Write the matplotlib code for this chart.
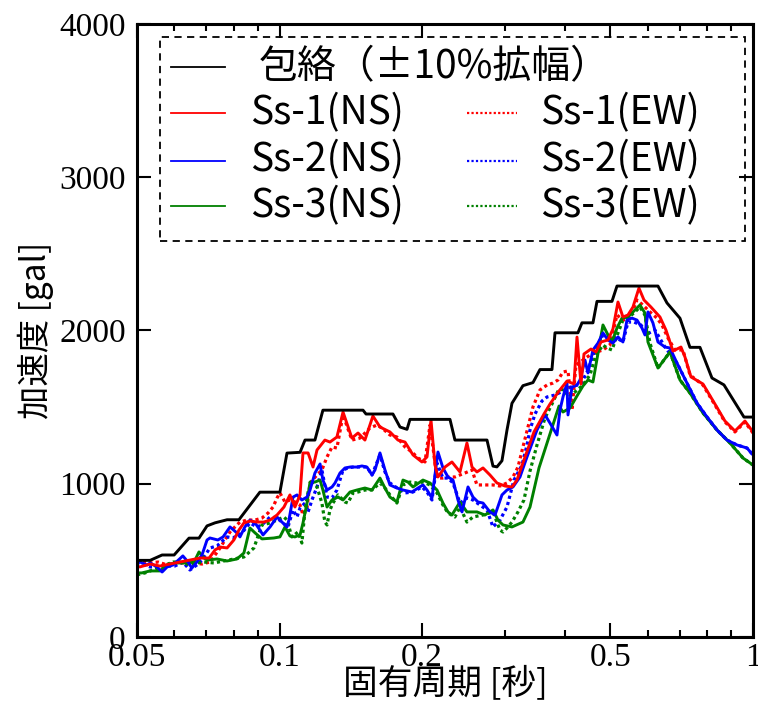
import matplotlib
matplotlib.use("Agg")
import matplotlib.pyplot as plt
from matplotlib.patches import Rectangle
from matplotlib.ticker import FixedLocator, NullFormatter

plt.rcParams['font.family'] = ['Noto Sans CJK JP', 'DejaVu Sans']

# envelope (+-10% broadened)
env_T = [0.050, 0.0533, 0.0565, 0.0599, 0.0644, 0.0676, 0.0703, 0.0731, 0.0775, 0.0821,
         0.0909, 0.1002, 0.1037, 0.1105, 0.1132, 0.1188, 0.1235, 0.1501, 0.1523, 0.1736,
         0.1797, 0.1859, 0.1886, 0.2291, 0.2347, 0.2743, 0.2824, 0.2879, 0.2950, 0.3023,
         0.3097, 0.3267, 0.3430, 0.3549, 0.3762, 0.3818, 0.4269, 0.4353, 0.4592, 0.4683,
         0.5037, 0.5161, 0.6299, 0.6581, 0.7011, 0.7360, 0.7727, 0.8191, 0.8683, 0.9570, 1.0]
env_A = [500, 500, 535, 535, 645, 645, 725, 745, 765, 765,
         945, 945, 1200, 1205, 1285, 1285, 1480, 1480, 1455, 1455,
         1370, 1355, 1420, 1420, 1285, 1285, 1115, 1110, 1150, 1350,
         1525, 1640, 1660, 1745, 1745, 1985, 1985, 2050, 2050, 2190,
         2190, 2290, 2290, 2180, 2080, 1890, 1890, 1690, 1645, 1435, 1435]

# Ss-1 (NS)
ss1_ns_T = [0.050, 0.0507, 0.0533, 0.0559, 0.0587, 0.0616, 0.0647, 0.0679, 0.0710, 0.0731,
            0.0749, 0.0775, 0.0801, 0.0821, 0.0841, 0.0866, 0.0896, 0.0927, 0.0955, 0.0988,
            0.1022, 0.1052, 0.1078, 0.1105, 0.1121, 0.1149, 0.1177, 0.1200, 0.1247, 0.1278,
            0.1322, 0.1362, 0.1422, 0.1465, 0.1515, 0.1575, 0.1630, 0.1711, 0.1779, 0.1841,
            0.1914, 0.1999, 0.2049, 0.2089, 0.2130, 0.2161, 0.2236, 0.2313, 0.2405, 0.2488,
            0.2550, 0.2612, 0.2690, 0.2783, 0.2879, 0.2994, 0.3097, 0.3173, 0.3283, 0.3447,
            0.3619, 0.3726, 0.3893, 0.4047, 0.4187, 0.4249, 0.4332, 0.4396, 0.4548, 0.4660,
            0.4775, 0.4940, 0.5061, 0.5186, 0.5313, 0.5444, 0.5578, 0.5743, 0.5885, 0.6088,
            0.6361, 0.6549, 0.6776, 0.7045, 0.7183, 0.7396, 0.7840, 0.8311, 0.8726, 0.9160,
            0.9617, 1.0]
ss1_ns_A = [463, 457, 476, 463, 476, 489, 502, 515, 515, 568,
            587, 581, 633, 698, 744, 757, 750, 750, 763, 796,
            848, 927, 848, 927, 1201, 1201, 1109, 1220, 1285, 1272,
            1305, 1468, 1298, 1331, 1285, 1442, 1370, 1338, 1285, 1272,
            1188, 1142, 1175, 1416, 1122, 1044, 1109, 1142, 1077, 1266,
            1109, 1077, 1103, 1057, 1005, 985, 979, 1024, 1155, 1338,
            1455, 1520, 1605, 1670, 1651, 1957, 1651, 1847, 1879, 1860,
            1925, 1938, 2010, 2186, 2088, 2101, 2153, 2277, 2199, 2153,
            2088, 2003, 1866, 1892, 1827, 1697, 1651, 1520, 1409, 1344,
            1409, 1338]

# Ss-2 (NS)
ss2_ns_T = [0.050, 0.0512, 0.0525, 0.0533, 0.0551, 0.0565, 0.0579, 0.0596, 0.0625, 0.0641,
            0.0653, 0.0669, 0.0686, 0.0703, 0.0713, 0.0741, 0.0760, 0.0786, 0.0813, 0.0825,
            0.0845, 0.0866, 0.0888, 0.0909, 0.0923, 0.0955, 0.0988, 0.1012, 0.1037, 0.1047,
            0.1068, 0.1089, 0.1115, 0.1143, 0.1160, 0.1188, 0.1218, 0.1235, 0.1260, 0.1291,
            0.1310, 0.1342, 0.1375, 0.1409, 0.1457, 0.1493, 0.1530, 0.1568, 0.1591, 0.1630,
            0.1670, 0.1711, 0.1770, 0.1823, 0.1904, 0.1961, 0.2009, 0.2049, 0.2099, 0.2161,
            0.2214, 0.2269, 0.2325, 0.2382, 0.2429, 0.2501, 0.2562, 0.2625, 0.2690, 0.2783,
            0.2852, 0.2950, 0.3023, 0.3112, 0.3220, 0.3332, 0.3498, 0.3636, 0.3726, 0.3855,
            0.3912, 0.3969, 0.4047, 0.4067, 0.4147, 0.4249, 0.4311, 0.4417, 0.4482, 0.4592,
            0.4706, 0.4821, 0.4940, 0.5061, 0.5186, 0.5313, 0.5418, 0.5551, 0.5688, 0.5828,
            0.5913, 0.6000, 0.6148, 0.6299, 0.6517, 0.6678, 0.6909, 0.7253, 0.7615, 0.7994,
            0.8393, 0.8811, 0.9250, 0.9711, 1.0]
ss2_ns_A = [502, 483, 470, 483, 457, 424, 457, 470, 529, 489,
            450, 489, 535, 633, 646, 633, 653, 718, 679, 653,
            718, 763, 744, 698, 666, 718, 783, 750, 718, 763,
            913, 927, 894, 913, 959, 1070, 1129, 1024, 959, 979,
            1005, 1070, 1103, 1109, 1109, 1116, 1109, 1057, 1090, 1201,
            1090, 992, 972, 959, 946, 972, 992, 959, 907, 1207,
            1103, 1044, 1024, 894, 816, 979, 913, 881, 874, 816,
            796, 927, 959, 979, 1044, 1175, 1351, 1449, 1396, 1318,
            1481, 1566, 1657, 1449, 1631, 1644, 1677, 1807, 1723, 1873,
            1918, 1984, 1938, 1918, 1958, 1925, 2068, 2081, 2068, 2016,
            1971, 2121, 2049, 1925, 1892, 1886, 1788, 1657, 1527, 1436,
            1351, 1285, 1253, 1233, 1188]

# Ss-3 (NS)
ss3_ns_T = [0.050, 0.0512, 0.0533, 0.0559, 0.0584, 0.0607, 0.0638, 0.0660, 0.0676, 0.0693,
            0.0703, 0.0738, 0.0775, 0.0813, 0.0841, 0.0866, 0.0888, 0.0918, 0.0973, 0.1002,
            0.1027, 0.1052, 0.1078, 0.1105, 0.1121, 0.1143, 0.1160, 0.1188, 0.1218, 0.1235,
            0.1260, 0.1291, 0.1329, 0.1362, 0.1409, 0.1457, 0.1515, 0.1568, 0.1630, 0.1670,
            0.1711, 0.1770, 0.1823, 0.1868, 0.1914, 0.2009, 0.2079, 0.2151, 0.2214, 0.2269,
            0.2313, 0.2405, 0.2488, 0.2612, 0.2716, 0.2824, 0.2893, 0.2965, 0.3097, 0.3267,
            0.3381, 0.3532, 0.3726, 0.3893, 0.3969, 0.4107, 0.4249, 0.4374, 0.4482, 0.4592,
            0.4821, 0.4940, 0.5037, 0.5161, 0.5288, 0.5444, 0.5633, 0.5771, 0.5913, 0.6000,
            0.6299, 0.6678, 0.7011, 0.7360, 0.7840, 0.8393, 0.8940, 0.9524, 1.0]
ss3_ns_A = [418, 418, 431, 431, 476, 483, 483, 489, 555, 515,
            502, 509, 496, 509, 548, 711, 679, 640, 646, 653,
            718, 659, 653, 666, 744, 874, 1011, 1011, 1024, 959,
            848, 894, 913, 894, 946, 959, 972, 959, 1037, 972,
            913, 881, 1024, 1011, 979, 1024, 1005, 959, 874, 816,
            796, 881, 816, 816, 796, 829, 763, 731, 718, 750,
            848, 1103, 1325, 1507, 1468, 1494, 1573, 1638, 1677, 1664,
            2036, 1971, 1925, 2016, 2081, 2088, 2134, 2166, 2114, 1925,
            1755, 1860, 1677, 1592, 1462, 1351, 1266, 1168, 1122]

# Ss-1 (EW)
ss1_ew_T = [0.050, 0.0512, 0.0533, 0.0554, 0.0579, 0.0601, 0.0625, 0.0657, 0.0686, 0.0713,
            0.0731, 0.0749, 0.0767, 0.0786, 0.0805, 0.0825, 0.0854, 0.0888, 0.0918, 0.0946,
            0.0969, 0.0988, 0.1002, 0.1027, 0.1052, 0.1078, 0.1105, 0.1121, 0.1143, 0.1160,
            0.1200, 0.1229, 0.1260, 0.1291, 0.1322, 0.1362, 0.1422, 0.1479, 0.1553, 0.1606,
            0.1646, 0.1711, 0.1770, 0.1841, 0.1904, 0.1961, 0.2029, 0.2079, 0.2151, 0.2214,
            0.2269, 0.2347, 0.2464, 0.2550, 0.2612, 0.2690, 0.2824, 0.2922, 0.3023, 0.3112,
            0.3189, 0.3267, 0.3348, 0.3430, 0.3549, 0.3672, 0.3781, 0.3874, 0.3969, 0.4067,
            0.4147, 0.4228, 0.4374, 0.4526, 0.4683, 0.4821, 0.4988, 0.5161, 0.5313, 0.5497,
            0.5688, 0.5856, 0.6059, 0.6269, 0.6423, 0.6613, 0.6842, 0.7114, 0.7360, 0.7840,
            0.8311, 0.8726, 0.9160, 0.9617, 1.0]
ss1_ew_A = [502, 489, 483, 489, 470, 483, 483, 483, 476, 489,
            535, 581, 633, 685, 718, 750, 763, 763, 776, 809,
            848, 907, 940, 881, 894, 881, 861, 796, 842, 1005,
            1057, 1090, 1175, 1240, 1233, 1449, 1285, 1298, 1364, 1383,
            1364, 1318, 1305, 1240, 1207, 1168, 1142, 1383, 1037, 1037,
            1044, 1044, 1070, 1090, 992, 992, 992, 985, 1005, 1044,
            1109, 1240, 1370, 1501, 1612, 1644, 1657, 1677, 1729, 1736,
            1481, 1775, 1807, 1840, 1860, 1873, 1905, 2101, 2068, 2081,
            2199, 2166, 2121, 2081, 2036, 1951, 1873, 1873, 1710, 1644,
            1514, 1403, 1338, 1403, 1331]

# Ss-2 (EW)
ss2_ew_T = [0.050, 0.0512, 0.0533, 0.0554, 0.0579, 0.0601, 0.0625, 0.0647, 0.0669, 0.0686,
            0.0713, 0.0738, 0.0775, 0.0797, 0.0833, 0.0866, 0.0896, 0.0918, 0.0955, 0.0988,
            0.1017, 0.1042, 0.1068, 0.1089, 0.1105, 0.1132, 0.1149, 0.1171, 0.1200, 0.1229,
            0.1260, 0.1291, 0.1322, 0.1362, 0.1395, 0.1429, 0.1479, 0.1530, 0.1568, 0.1630,
            0.1670, 0.1711, 0.1797, 0.1841, 0.1914, 0.1999, 0.2049, 0.2099, 0.2151, 0.2214,
            0.2269, 0.2325, 0.2405, 0.2488, 0.2562, 0.2651, 0.2743, 0.2824, 0.2922, 0.3023,
            0.3127, 0.3252, 0.3332, 0.3381, 0.3464, 0.3584, 0.3672, 0.3818, 0.4047, 0.4187,
            0.4332, 0.4482, 0.4637, 0.4821, 0.4988, 0.5161, 0.5313, 0.5444, 0.5605, 0.5799,
            0.5971, 0.6208, 0.6517, 0.6909, 0.7253, 0.7615, 0.7994, 0.8393, 0.8811, 0.9250,
            0.9711, 1.0]
ss2_ew_A = [489, 476, 457, 457, 463, 463, 489, 437, 470, 502,
            581, 594, 653, 646, 679, 744, 718, 731, 783, 776,
            744, 718, 829, 783, 842, 874, 816, 894, 979, 1090,
            913, 907, 959, 1090, 1103, 1109, 1109, 1109, 1057, 1188,
            1077, 1005, 959, 940, 946, 979, 946, 894, 1135, 1037,
            1037, 1005, 874, 907, 894, 861, 829, 718, 763, 848,
            1024, 1122, 1253, 1351, 1455, 1540, 1566, 1579, 1618, 1638,
            1651, 1742, 1873, 1971, 1958, 1951, 1925, 2055, 2055, 2036,
            1977, 2003, 1892, 1788, 1657, 1527, 1436, 1351, 1285, 1253,
            1233, 1188]

# Ss-3 (EW)
ss3_ew_T = [0.050, 0.0520, 0.0540, 0.0567, 0.0596, 0.0616, 0.0647, 0.0669, 0.0693, 0.0727,
            0.0763, 0.0801, 0.0841, 0.0883, 0.0918, 0.0955, 0.0988, 0.1022, 0.1037, 0.1062,
            0.1094, 0.1115, 0.1132, 0.1149, 0.1171, 0.1200, 0.1229, 0.1247, 0.1260, 0.1278,
            0.1297, 0.1329, 0.1375, 0.1395, 0.1429, 0.1465, 0.1515, 0.1568, 0.1630, 0.1670,
            0.1711, 0.1770, 0.1823, 0.1886, 0.1951, 0.2009, 0.2079, 0.2151, 0.2214, 0.2269,
            0.2347, 0.2405, 0.2488, 0.2562, 0.2690, 0.2824, 0.2922, 0.2965, 0.3038, 0.3097,
            0.3189, 0.3283, 0.3381, 0.3498, 0.3636, 0.3762, 0.3893, 0.3988, 0.4087, 0.4208,
            0.4374, 0.4526, 0.4660, 0.4821, 0.4916, 0.5037, 0.5186, 0.5313, 0.5444, 0.5633,
            0.5771, 0.5913, 0.6059, 0.6299, 0.6678, 0.7011, 0.7360, 0.7840, 0.8393, 0.8940,
            0.9524, 1.0]
ss3_ew_A = [405, 418, 437, 463, 489, 489, 470, 483, 489, 483,
            496, 509, 522, 581, 731, 744, 763, 783, 763, 653,
            685, 613, 829, 946, 1011, 979, 874, 750, 731, 829,
            874, 927, 881, 874, 940, 946, 959, 959, 1005, 972,
            927, 874, 992, 1011, 1005, 1011, 992, 940, 861, 809,
            783, 848, 750, 783, 796, 816, 698, 685, 718, 750,
            816, 894, 1083, 1253, 1429, 1520, 1618, 1612, 1566, 1599,
            1644, 1710, 1840, 1905, 1886, 1873, 1984, 2068, 2081, 2121,
            2153, 2101, 1918, 1755, 1860, 1677, 1592, 1462, 1351, 1266,
            1168, 1122]

x_major = [0.05, 0.1, 0.2, 0.5, 1.0]
x_major_labels = ['0.05', '0.1', '0.2', '0.5', '1']
x_minor = [0.06, 0.07, 0.08, 0.09, 0.3, 0.4, 0.6, 0.7, 0.8, 0.9]
y_major = [0, 1000, 2000, 3000, 4000]

fig = plt.figure(figsize=(7.58, 7.04), dpi=100)
ax = fig.add_axes([0.1807, 0.0952, 0.8127, 0.8707])

lw = 2.1
dot = (0, (1.0, 1.0))
ax.plot(ss1_ew_T, ss1_ew_A, color='#ff0000', lw=2.3, ls=dot)
ax.plot(ss2_ew_T, ss2_ew_A, color='#0000ff', lw=2.3, ls=dot)
ax.plot(ss3_ew_T, ss3_ew_A, color='#008000', lw=2.3, ls=dot)
ax.plot(ss3_ns_T, ss3_ns_A, color='#008000', lw=lw)
ax.plot(ss2_ns_T, ss2_ns_A, color='#0000ff', lw=lw)
ax.plot(ss1_ns_T, ss1_ns_A, color='#ff0000', lw=lw)
ax.plot(env_T, env_A, color='black', lw=lw)

ax.set_xscale('log')
ax.set_xlim(0.05, 1.0)
ax.set_ylim(0, 4000)
ax.xaxis.set_major_locator(FixedLocator(x_major))
ax.xaxis.set_minor_locator(FixedLocator(x_minor))
ax.xaxis.set_minor_formatter(NullFormatter())
ax.set_xticklabels(x_major_labels)
ax.set_yticks(y_major)
ax.tick_params(which='both', direction='in', top=True, right=True, width=1.5)
ax.tick_params(which='major', length=10, labelsize=24)
ax.tick_params(axis='x', which='major', pad=4)
ax.tick_params(axis='y', which='major', pad=8)
ax.tick_params(which='minor', length=5)
for lab in ax.get_xticklabels() + ax.get_yticklabels():
    lab.set_family('Liberation Serif')
for sp in ax.spines.values():
    sp.set_linewidth(2.2)

# x label pinned to the bottom edge so it stays inside the figure
fig.text(0.587, 0.004, '固有周期 [秒]', ha='center', va='bottom', fontsize=25)
ax.set_ylabel('加速度 [gal]', fontsize=24, labelpad=4)

# legend, drawn by hand (first row spans both columns)
ax.add_patch(Rectangle((0.037, 0.646), 0.950, 0.333, transform=ax.transAxes,
                       fill=False, ls=(0, (4, 3)), lw=1.3, ec='black', zorder=5))
leg_fs = 28
rows = [0.930, 0.855, 0.777, 0.703]
ax.plot([0.055, 0.143], [rows[0]] * 2, transform=ax.transAxes, color='black', lw=1.3)
ax.text(0.198, rows[0], '包絡（±10%拡幅）', transform=ax.transAxes, fontsize=leg_fs, va='center')
names = ['Ss-1', 'Ss-2', 'Ss-3']
cols = ['#ff0000', '#0000ff', '#008000']
for i in range(3):
    y = rows[i + 1]
    ax.plot([0.055, 0.143], [y, y], transform=ax.transAxes, color=cols[i], lw=1.3)
    ax.text(0.183, y, names[i] + '(NS)', transform=ax.transAxes, fontsize=leg_fs, va='center')
    ax.plot([0.536, 0.617], [y, y], transform=ax.transAxes, color=cols[i], lw=1.6, ls=(0, (1, 1)))
    ax.text(0.654, y, names[i] + '(EW)', transform=ax.transAxes, fontsize=leg_fs, va='center')

fig.savefig('out.png', dpi=100)
